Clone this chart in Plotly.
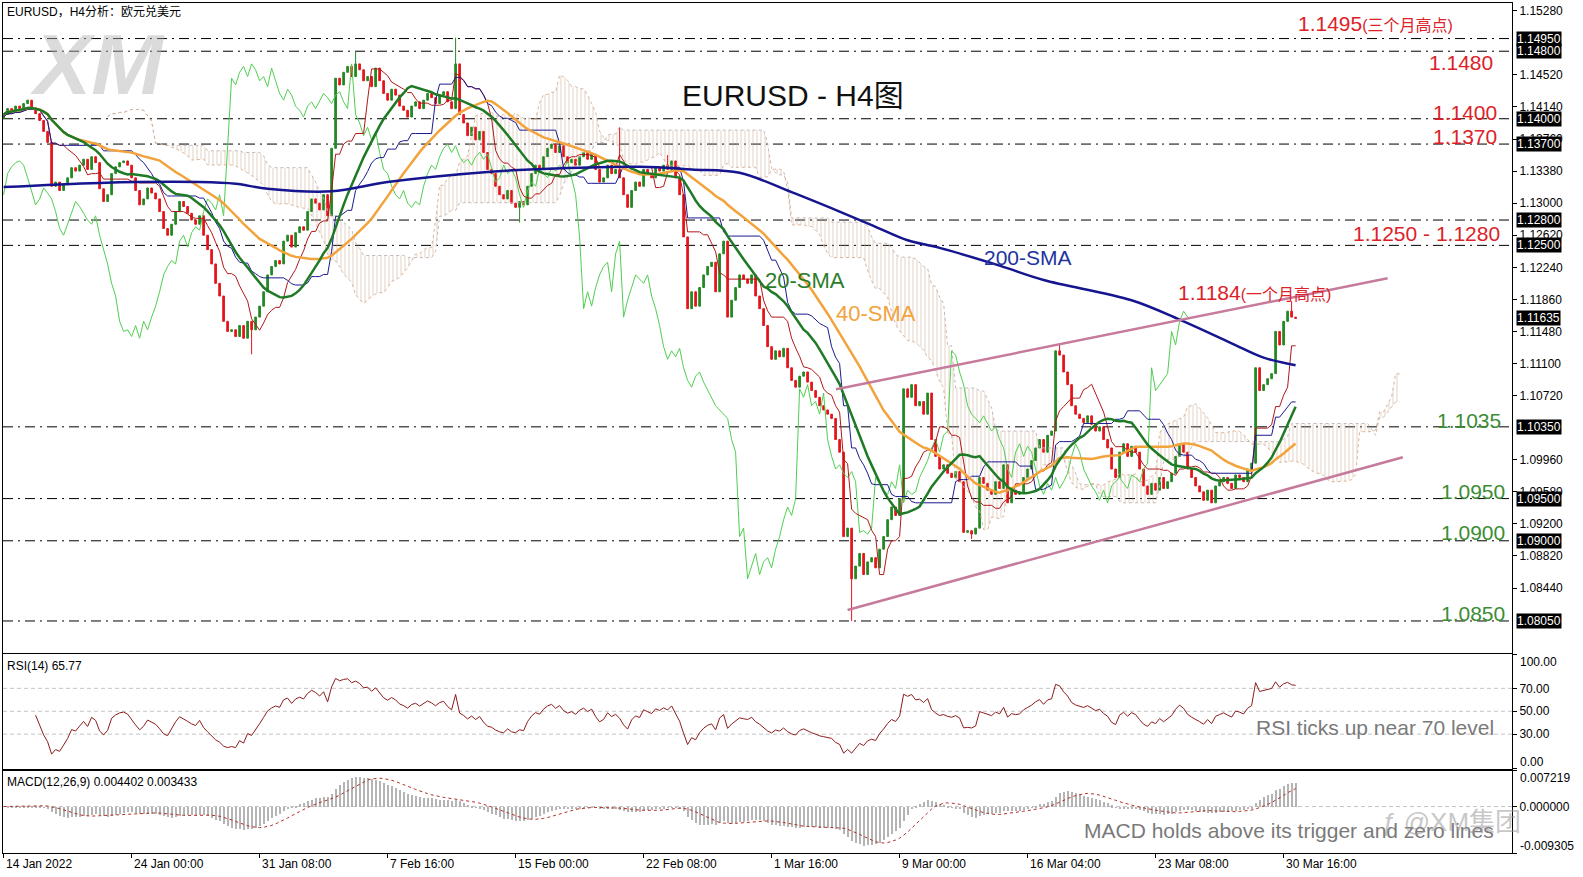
import numpy as np
import pandas as pd
import plotly.graph_objects as go

# ---------------- data ----------------
tick_idx = [0, 32, 64, 96, 128, 160, 192, 224, 256, 288, 320]
tick_text = ["14 Jan 2022", "24 Jan 00:00", "31 Jan 08:00", "7 Feb 16:00", "15 Feb 00:00",
             "22 Feb 08:00", "1 Mar 16:00", "9 Mar 00:00", "16 Mar 04:00", "23 Mar 08:00", "30 Mar 16:00"]

price_ticks = [1.1528, 1.1452, 1.1414, 1.1376, 1.1338, 1.1300, 1.1262, 1.1224, 1.1186, 1.1148,
               1.1110, 1.1072, 1.0996, 1.0958, 1.0920, 1.0882, 1.0844]

first_open = 1.1400
closes = [
    1.1405, 1.1412, 1.1408, 1.1415, 1.1410, 1.1418, 1.1422, 1.1413, 1.1406, 1.1398, 1.1385, 1.1372,
    1.1320, 1.1325, 1.1315, 1.1322, 1.1330, 1.1342, 1.1338, 1.1345, 1.1352, 1.1340, 1.1355, 1.1348,
    1.1317, 1.1302, 1.1310, 1.1335, 1.1343, 1.1348, 1.1350, 1.1345, 1.1330, 1.1315, 1.1298, 1.1305,
    1.1318, 1.1312, 1.1305, 1.1290, 1.1270, 1.1262, 1.1275, 1.1290, 1.1302, 1.1296, 1.1288, 1.1280,
    1.1275, 1.1285, 1.1262, 1.1245, 1.1228, 1.1205, 1.1190, 1.1160, 1.1148, 1.1150, 1.1142, 1.1155,
    1.1140, 1.1160, 1.1150, 1.1165, 1.1178, 1.1195, 1.1215, 1.1225, 1.1232, 1.1228, 1.1255, 1.1262,
    1.1248, 1.1265, 1.1272, 1.1268, 1.1290, 1.1305, 1.1300, 1.1292, 1.1310, 1.1285, 1.1365, 1.1448,
    1.1440, 1.1455, 1.1462, 1.1450, 1.1465, 1.1458, 1.1445, 1.1450, 1.1438, 1.1460, 1.1445, 1.1430,
    1.1422, 1.1435, 1.1428, 1.1415, 1.1410, 1.1402, 1.1415, 1.1420, 1.1412, 1.1422, 1.1430, 1.1425,
    1.1418, 1.1428, 1.1432, 1.1420, 1.1412, 1.1465, 1.1405, 1.1395, 1.1380, 1.1390, 1.1375, 1.1385,
    1.1360, 1.1340, 1.1335, 1.1320, 1.1310, 1.1305, 1.1315, 1.1300, 1.1295, 1.1302, 1.1298, 1.1320,
    1.1335, 1.1345, 1.1340, 1.1355, 1.1365, 1.1370, 1.1360, 1.1368, 1.1355, 1.1348, 1.1352, 1.1345,
    1.1355, 1.1360, 1.1352, 1.1358, 1.1340, 1.1325, 1.1330, 1.1345, 1.1335, 1.1340, 1.1330, 1.1310,
    1.1295, 1.1315, 1.1325, 1.1320, 1.1340, 1.1335, 1.1330, 1.1342, 1.1338, 1.1345, 1.1340, 1.1350,
    1.1330, 1.1310, 1.1260, 1.1175, 1.1195, 1.1178, 1.1200, 1.1215, 1.1225, 1.1230, 1.1195, 1.1240,
    1.1255, 1.1165, 1.1185, 1.1200, 1.1215, 1.1210, 1.1205, 1.1215, 1.1190, 1.1175, 1.1155, 1.1130,
    1.1115, 1.1125, 1.1118, 1.1128, 1.1105, 1.1090, 1.1082, 1.1095, 1.1100, 1.1088, 1.1078, 1.1070,
    1.1060, 1.1055, 1.1050, 1.1045, 1.1020, 1.1005, 1.0905, 1.0915, 1.0855, 1.0870, 1.0885, 1.0860,
    1.0875, 1.0880, 1.0868, 1.0890, 1.0905, 1.0925, 1.0940, 1.0930, 1.0950, 1.1080, 1.1070, 1.1085,
    1.1060, 1.1065, 1.1050, 1.1075, 1.1020, 1.1000, 1.0985, 1.0990, 1.0980, 1.0975, 1.0982, 1.0970,
    1.0910, 1.0912, 1.0908, 1.0915, 1.0975, 1.0968, 1.0960, 1.0955, 1.0970, 1.0962, 1.0990, 1.0945,
    1.0960, 1.0955, 1.0958, 1.0975, 1.0985, 1.0995, 1.1010, 1.1020, 1.1005, 1.1025, 1.1030, 1.1125,
    1.1120, 1.1100, 1.1085, 1.1060, 1.1050, 1.1045, 1.1040, 1.1048, 1.1038, 1.1030, 1.1035, 1.1020,
    1.1010, 1.0985, 1.0975, 1.1005, 1.1015, 1.1000, 1.1012, 1.1005, 1.0985, 1.0965, 1.0955, 1.0968,
    1.0960, 1.0975, 1.0962, 1.0970, 1.0980, 1.1000, 1.1015, 1.1005, 1.0985, 1.0975, 1.0965, 1.0958,
    1.0948, 1.0960, 1.0945, 1.0965, 1.0970, 1.0975, 1.0968, 1.0962, 1.0978, 1.0975, 1.0970, 1.0985,
    1.0992, 1.1105, 1.1078, 1.1085, 1.1092, 1.1098, 1.1148, 1.1132, 1.1160, 1.1172, 1.1165, 1.11635,
]

# notable wick extremes
spike_high_idx = [88, 113, 154, 166, 264, 322]
spike_high_val = [1.1480, 1.1496, 1.1390, 1.1357, 1.1133, 1.1184]
spike_low_idx = [62, 129, 212, 242, 302]
spike_low_val = [1.1121, 1.1277, 1.0805, 1.0902, 1.0945]

# 200-SMA (history before the window is not visible, so read from the picture)
sma200_idx = [0, 24, 49, 58, 66, 82, 96, 121, 138, 159, 172, 184, 197, 209, 218, 226, 234, 249, 260, 282, 294, 307, 315, 323]
sma200_val = [1.1319, 1.1324, 1.1325, 1.1323, 1.1317, 1.1314, 1.1325, 1.1337, 1.1341, 1.1343, 1.1340, 1.1336,
              1.1313, 1.1290, 1.1272, 1.1256, 1.1247, 1.1226, 1.1209, 1.1185, 1.1162, 1.1134, 1.1117, 1.1108]

# analyst lines
level_vals = [1.1495, 1.1480, 1.1400, 1.1370, 1.1280, 1.1250, 1.1035, 1.0950, 1.0900, 1.0805]
axis_boxes = ["1.14950", "1.14800", "1.14000", "1.13700", "1.12800", "1.12500", "1.11635", "1.10350", "1.09500", "1.09000", "1.08050"]
upper_trend_idx = [208.1, 346.0]
upper_trend_val = [1.10795, 1.12110]
lower_trend_idx = [211.0, 349.8]
lower_trend_val = [1.08180, 1.09989]

rsi_levels = [30, 50, 70]

# ---------------- derived series ----------------
N = len(closes)
idx = np.arange(N)
c = pd.Series(closes)
o = c.shift(1).fillna(first_open)
h = pd.concat([o, c], axis=1).max(axis=1)
l = pd.concat([o, c], axis=1).min(axis=1)
for i, v in zip(spike_high_idx, spike_high_val):
    h[i] = max(h[i], v)
for i, v in zip(spike_low_idx, spike_low_val):
    l[i] = min(l[i], v)

sma20 = c.rolling(20, min_periods=1).mean()
sma40 = c.rolling(40, min_periods=1).mean()
tenkan = (h.rolling(9, min_periods=1).max() + l.rolling(9, min_periods=1).min()) / 2
kijun = (h.rolling(26, min_periods=1).max() + l.rolling(26, min_periods=1).min()) / 2
spanA = (tenkan + kijun) / 2
spanB = (h.rolling(52, min_periods=1).max() + l.rolling(52, min_periods=1).min()) / 2

d = c.diff()
gain = d.clip(lower=0)
loss = -d.clip(upper=0)
ag = gain.ewm(alpha=1 / 14, adjust=True, min_periods=8).mean()
al = loss.ewm(alpha=1 / 14, adjust=True, min_periods=8).mean()
rsi = 100 - 100 / (1 + ag / al)

ema12 = c.ewm(span=12, adjust=False).mean()
ema26 = c.ewm(span=26, adjust=False).mean()
macd = ema12 - ema26
signal = macd.rolling(9, min_periods=1).mean()

# ---------------- figure ----------------
FONT = "Liberation Sans, Arial, Noto Sans CJK SC, sans-serif"
W, H = 1583, 877
L, R, T, B = 3, 1512, 3, 853


def px(x):
    return (x - L) / (R - L)


def py(y):
    return (B - y) / (B - T)


fig = go.Figure()

# Ichimoku cloud
fig.add_trace(go.Scatter(x=idx + 26, y=spanB, mode="lines", xaxis="x", yaxis="y",
                         line=dict(color="#c4b8b8", width=1, dash="dot"), hoverinfo="skip"))
fig.add_trace(go.Scatter(x=idx + 26, y=spanA, mode="lines", xaxis="x", yaxis="y", fill="tonexty",
                         fillcolor="rgba(0,0,0,0)",
                         fillpattern=dict(shape="|", fgcolor="#d0ac94", bgcolor="rgba(0,0,0,0)", size=4, solidity=0.28),
                         line=dict(color="#d8b498", width=1, dash="dot"), hoverinfo="skip"))

# candles
fig.add_trace(go.Candlestick(x=idx, open=o, high=h, low=l, close=c, xaxis="x", yaxis="y",
                             increasing=dict(line=dict(color="#238a23", width=1), fillcolor="#238a23"),
                             decreasing=dict(line=dict(color="#e5161c", width=1), fillcolor="#e5161c"),
                             whiskerwidth=0, hoverinfo="skip"))

# chikou / tenkan / kijun
fig.add_trace(go.Scatter(x=idx[26:] - 26, y=c[26:], mode="lines", xaxis="x", yaxis="y",
                         line=dict(color="#4fcf4f", width=1), hoverinfo="skip"))
fig.add_trace(go.Scatter(x=idx, y=tenkan, mode="lines", xaxis="x", yaxis="y",
                         line=dict(color="#b01818", width=1), hoverinfo="skip"))
fig.add_trace(go.Scatter(x=idx, y=kijun, mode="lines", xaxis="x", yaxis="y",
                         line=dict(color="#1a1a90", width=1), hoverinfo="skip"))
# SMAs
fig.add_trace(go.Scatter(x=idx, y=sma40, mode="lines", xaxis="x", yaxis="y",
                         line=dict(color="#f2a33c", width=2.5), hoverinfo="skip"))
fig.add_trace(go.Scatter(x=idx, y=sma20, mode="lines", xaxis="x", yaxis="y",
                         line=dict(color="#1f7a26", width=2.5), hoverinfo="skip"))
fig.add_trace(go.Scatter(x=sma200_idx, y=sma200_val, mode="lines", xaxis="x", yaxis="y",
                         line=dict(color="#151590", width=2.5, shape="spline"), hoverinfo="skip"))
# trend lines
for tx, ty in [(upper_trend_idx, upper_trend_val), (lower_trend_idx, lower_trend_val)]:
    fig.add_trace(go.Scatter(x=tx, y=ty, mode="lines", xaxis="x", yaxis="y",
                             line=dict(color="#c67a9c", width=2.5), hoverinfo="skip"))

# RSI
fig.add_trace(go.Scatter(x=idx, y=rsi, mode="lines", xaxis="x2", yaxis="y2",
                         line=dict(color="#8b1c1c", width=1), hoverinfo="skip"))
# MACD
fig.add_trace(go.Bar(x=idx, y=macd, xaxis="x3", yaxis="y3", width=0.3,
                     marker=dict(color="#b4b4b4", line=dict(width=0)), hoverinfo="skip"))
fig.add_trace(go.Scatter(x=idx, y=signal, mode="lines", xaxis="x3", yaxis="y3",
                         line=dict(color="#b03028", width=1, dash="dot"), hoverinfo="skip"))

shapes = []
for v in level_vals:
    shapes.append(dict(type="line", xref="paper", x0=0, x1=1, yref="y", y0=v, y1=v, layer="below",
                       line=dict(color="black", width=1, dash="10px,5px,2px,5px")))
for v in rsi_levels:
    shapes.append(dict(type="line", xref="paper", x0=0, x1=1, yref="y2", y0=v, y1=v, layer="below",
                       line=dict(color="#c4c4c4", width=1, dash="4px,3px")))
shapes.append(dict(type="line", xref="paper", x0=0, x1=1, yref="y3", y0=0, y1=0, layer="below",
                   line=dict(color="#c4c4c4", width=1, dash="4px,3px")))

ann = []


def txt(x, y, s, size, color, xanchor="left", **kw):
    d = dict(xref="paper", yref="paper", x=px(x), y=py(y), text=s, showarrow=False,
             xanchor=xanchor, yanchor="middle", font=dict(size=size, color=color, family=FONT))
    d["font"].update(kw.pop("font", {}))
    d.update(kw)
    return d


RED = "#dc2228"
GRN = "#3c8c34"
cjk = "<span style='font-size:16px'>%s</span>"
ann += [
    txt(28, 64, "XM", 86, "rgba(175,175,175,0.45)", font=dict(weight="bold", style="italic")),
    txt(5, 12, "EURUSD，H4分析：欧元兑美元", 12, "black"),
    txt(680, 96, "EURUSD - H4图", 30, "#111111"),
    txt(1296, 24, "1.1495" + cjk % "(三个月高点)", 21, RED),
    txt(1427, 62, "1.1480", 21, RED),
    txt(1431, 113, "1.1400", 21, RED),
    txt(1431, 137, "1.1370", 21, RED),
    txt(1351, 233, "1.1250 - 1.1280", 21, RED),
    txt(1176, 292, "1.1184" + cjk % "(一个月高点)", 21, RED),
    txt(1435, 420, "1.1035", 21, GRN),
    txt(1439, 491, "1.0950", 21, GRN),
    txt(1439, 532, "1.0900", 21, GRN),
    txt(1439, 613, "1.0850", 21, GRN),
    txt(982, 257, "200-SMA", 21, "#2233a0"),
    txt(763, 280, "20-SMA", 22, "#2a7d2a"),
    txt(834, 313, "40-SMA", 22, "#f2a33c"),
    txt(5, 666, "RSI(14) 65.77", 12, "black"),
    txt(5, 782, "MACD(12,26,9) 0.004402 0.003433", 12, "black"),
    txt(1254, 727, "RSI ticks up near 70 level", 21, "#7a7a7a"),
    txt(1082, 830, "MACD holds above its trigger and zero lines", 21, "#7a7a7a"),
    txt(1380, 822, "ƒ @XM集团", 26, "rgba(150,150,150,0.55)"),
    # edge labels of sub-panels
    txt(1518, 662, "100.00", 12, "black"),
    txt(1518, 762, "0.00", 12, "black"),
    txt(1518, 778, "0.007219", 12, "black"),
    txt(1518, 846, "-0.009305", 12, "black"),
]
for s in axis_boxes:
    ann.append(dict(xref="paper", yref="y", x=1, xshift=4, y=float(s), text=s, showarrow=False,
                    xanchor="left", yanchor="middle", bgcolor="black", borderpad=0,
                    font=dict(size=12, color="white", family=FONT)))
for i, s in zip(tick_idx, tick_text):
    ann.append(dict(xref="x3", yref="paper", x=i, y=py(864), text=s, showarrow=False,
                    xanchor="left", yanchor="middle", font=dict(size=12, color="black", family=FONT)))

xr = [-0.15, -0.15 + (R - L) / 4.0]
frame = dict(showline=True, linecolor="black", linewidth=1, mirror=True, showgrid=False, zeroline=False,
             automargin=False)
main_dom = [py(652.5), 1]
rsi_dom = [py(768.5), py(654)]
macd_dom = [0, py(770.5)]
ymain = [1.1528 - (652.5 - 10.7) * 0.00011847, 1.1528 + (10.7 - 3) * 0.00011847]

fig.update_layout(
    width=W, height=H, margin=dict(l=L, r=W - R, t=T, b=H - B, autoexpand=False),
    paper_bgcolor="white", plot_bgcolor="white", showlegend=False,
    font=dict(family=FONT, size=12, color="black"),
    shapes=shapes, annotations=ann,
    xaxis=dict(domain=[0, 1], range=xr, anchor="y", showticklabels=False, ticks="",
               rangeslider=dict(visible=False), **frame),
    xaxis2=dict(domain=[0, 1], range=xr, anchor="y2", matches="x", showticklabels=False, ticks="", **frame),
    xaxis3=dict(domain=[0, 1], range=xr, anchor="y3", matches="x", showticklabels=False,
                tickmode="array", tickvals=tick_idx, ticks="outside", ticklen=4, tickcolor="black", **frame),
    yaxis=dict(domain=main_dom, range=ymain, side="right", anchor="x", tickmode="array", tickvals=price_ticks,
               tickformat=".5f", ticks="outside", ticklen=4, tickcolor="black",
               tickfont=dict(size=12, family=FONT), **frame),
    yaxis2=dict(domain=rsi_dom, range=[0, 100], side="right", anchor="x2", tickmode="array",
                tickvals=[0, 30, 50, 70, 100], ticktext=[" ", "30.00", "50.00", "70.00", " "],
                ticks="outside", ticklen=4, tickcolor="black", tickfont=dict(size=12, family=FONT), **frame),
    yaxis3=dict(domain=macd_dom, range=[-0.009305, 0.007219], side="right", anchor="x3", tickmode="array",
                tickvals=[-0.009305, 0, 0.007219], ticktext=[" ", "0.000000", " "],
                ticks="outside", ticklen=4, tickcolor="black", tickfont=dict(size=12, family=FONT), **frame),
    bargap=0, boxgap=0.4,
)

fig.write_html("out.html", config={"displayModeBar": False},
               post_script="document.body.style.margin='0px';document.body.style.overflow='hidden';")
